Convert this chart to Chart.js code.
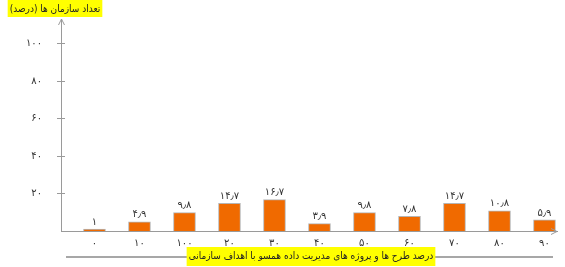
<!DOCTYPE html>
<html>
<head>
<meta charset="utf-8">
<script src="https://cdn.jsdelivr.net/npm/chart.js@4.4.0/dist/chart.umd.min.js"></script>
<style>
  body { margin: 0; background: #fff; }
  #wrap { width: 565px; height: 267px; }
</style>
</head>
<body>
<div id="wrap"><canvas id="chart" width="565" height="267"></canvas></div>
<script>
// chart data
const categories = ['۰', '۱۰', '۱۰۰', '۲۰', '۳۰', '۴۰', '۵۰', '۶۰', '۷۰', '۸۰', '۹۰'];
const shares = [1, 4.9, 9.8, 14.7, 16.7, 3.9, 9.8, 7.8, 14.7, 10.8, 5.9];
const yTicks = [20, 40, 60, 80, 100];
const yTitle = 'تعداد سازمان ها (درصد)';
const xTitle = 'درصد طرح ها و پروژه های مدیریت داده همسو با اهداف سازمانی';

const FONT = '"DejaVu Sans", sans-serif';
const TITLE_FONT = '"DejaVu Sans Condensed", "DejaVu Sans", sans-serif';
const AXIS = '#9a9a9a';

function toPersian(n) {
    const digits = '۰۱۲۳۴۵۶۷۸۹';
    return String(n).replace(/\d/g, d => digits[d]).replace('.', '٫');
}

const decorations = {
    id: 'decorations',
    afterDatasetsDraw(chart) {
        const ctx = chart.ctx;
        const meta = chart.getDatasetMeta(0);
        ctx.save();
        ctx.font = '10px ' + FONT;
        ctx.fillStyle = '#333';
        ctx.textAlign = 'center';
        ctx.textBaseline = 'bottom';
        meta.data.forEach((bar, i) => {
            ctx.fillText(toPersian(shares[i]), bar.x, bar.y - 2);
        });
        ctx.restore();
    },
    afterDraw(chart) {
        const ctx = chart.ctx;
        const area = chart.chartArea;
        const y = chart.scales.y;
        ctx.save();
        ctx.strokeStyle = AXIS;
        ctx.lineWidth = 1;

        // tick marks crossing the y axis
        yTicks.forEach(v => {
            const py = Math.round(y.getPixelForValue(v)) + 0.5;
            ctx.beginPath();
            ctx.moveTo(area.left - 4, py);
            ctx.lineTo(area.left + 4, py);
            ctx.stroke();
        });

        // arrow heads
        const ax = area.left + 0.5;
        ctx.beginPath();
        ctx.moveTo(ax - 3, area.top + 6);
        ctx.lineTo(ax, area.top);
        ctx.lineTo(ax + 3, area.top + 6);
        ctx.stroke();
        const ay = area.bottom + 0.5;
        ctx.beginPath();
        ctx.moveTo(area.right - 6, ay - 3);
        ctx.lineTo(area.right, ay);
        ctx.lineTo(area.right - 6, ay + 3);
        ctx.stroke();

        // y title
        ctx.font = '10px ' + TITLE_FONT;
        ctx.textAlign = 'center';
        ctx.textBaseline = 'middle';
        let w = ctx.measureText(yTitle).width + 4;
        ctx.fillStyle = '#ffff00';
        ctx.fillRect(55 - w / 2, 0, w, 17);
        ctx.fillStyle = '#222';
        ctx.fillText(yTitle, 55, 9);

        // x title with line behind it
        ctx.strokeStyle = '#8a8a8a';
        ctx.lineWidth = 1.5;
        ctx.beginPath();
        ctx.moveTo(66, 257);
        ctx.lineTo(553, 257);
        ctx.stroke();
        w = ctx.measureText(xTitle).width + 4;
        ctx.fillStyle = '#ffff00';
        ctx.fillRect(311 - w / 2, 247, w, 19);
        ctx.fillStyle = '#222';
        ctx.fillText(xTitle, 311, 256);
        ctx.restore();
    }
};

new Chart(document.getElementById('chart'), {
    type: 'bar',
    data: {
        datasets: [{
            data: shares.map((v, i) => ({ x: i, y: v })),
            backgroundColor: '#f06a00',
            borderColor: '#b5b5b5',
            borderWidth: 1,
            barThickness: 22
        }]
    },
    options: {
        responsive: false,
        animation: false,
        layout: { padding: { top: 19, right: 8, left: 0, bottom: 0 } },
        plugins: { legend: { display: false }, tooltip: { enabled: false } },
        scales: {
            x: {
                type: 'linear',
                offset: false,
                min: -0.744,
                max: 10.278,
                grid: { display: false },
                border: { display: true, color: AXIS, width: 1 },
                afterBuildTicks: s => { s.ticks = categories.map((_, i) => ({ value: i })); },
                afterFit: s => { s.height = 36; },
                ticks: {
                    autoSkip: false,
                    maxRotation: 0,
                    padding: -2,
                    color: '#333',
                    font: { family: FONT, size: 10 },
                    callback: v => categories[v]
                }
            },
            y: {
                min: 0,
                max: 113,
                grid: { display: false },
                border: { display: true, color: AXIS, width: 1 },
                afterBuildTicks: s => { s.ticks = yTicks.map(v => ({ value: v })); },
                afterFit: s => { s.width = 61; },
                ticks: {
                    padding: 11,
                    color: '#333',
                    font: { family: FONT, size: 10 },
                    callback: v => toPersian(v)
                }
            }
        }
    },
    plugins: [decorations]
});
</script>
</body>
</html>
